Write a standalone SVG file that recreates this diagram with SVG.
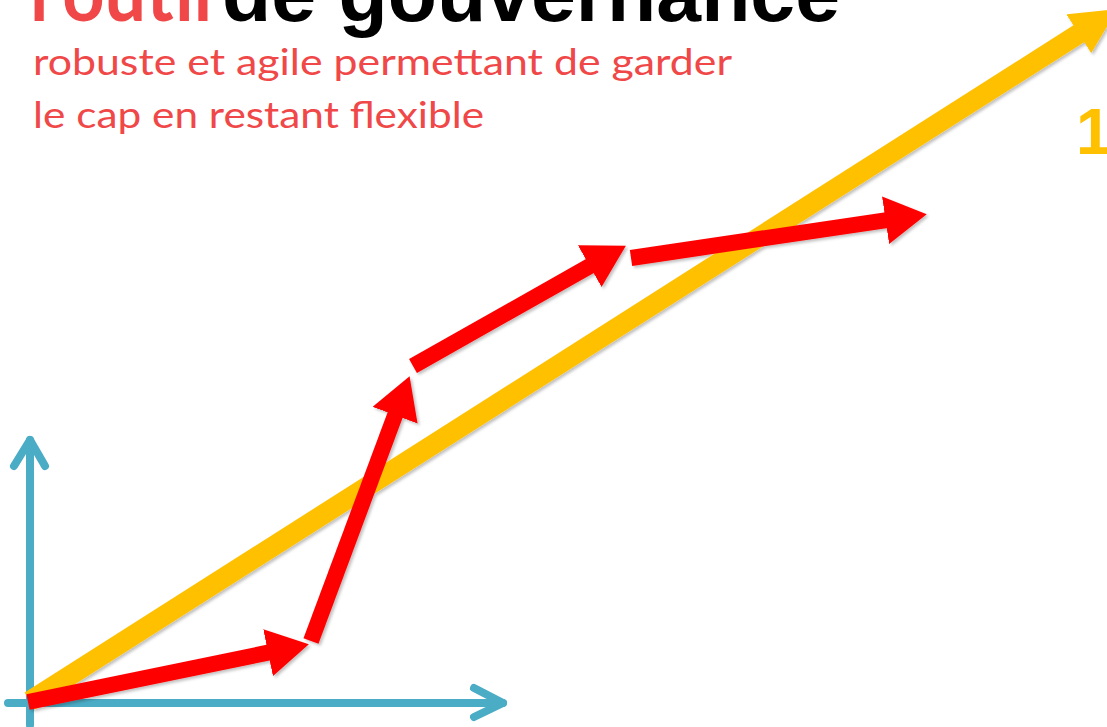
<svg xmlns="http://www.w3.org/2000/svg" width="1107" height="727" viewBox="0 0 1107 727">
  <style>
    .title-black { font-family: "Liberation Sans", Arial, sans-serif; font-weight: bold; font-size: 80px; fill: #000; }
    .title-red { font-family: Lato, "Liberation Sans", sans-serif; font-weight: bold; font-size: 80px; fill: #f04848; }
    .sub { font-family: Lato, "Liberation Sans", sans-serif; font-size: 37px; fill: #f04848; }
    .num { font-family: "Liberation Sans", Arial, sans-serif; font-weight: bold; font-size: 64px; fill: #ffc000; }
    .axis { stroke: #4bacc6; stroke-width: 8; fill: none; stroke-linecap: round; stroke-linejoin: round; }
    .red { stroke: #ff0000; stroke-width: 16; fill: none; marker-end: url(#redHead); }
    .yellow { stroke: #ffc000; stroke-width: 20; fill: none; marker-end: url(#yellowHead); }
  </style>
  <defs>
    <filter id="shadow" filterUnits="userSpaceOnUse" x="0" y="0" width="1107" height="727">
      <feDropShadow dx="2" dy="2" stdDeviation="1.5" flood-color="#000" flood-opacity="0.25"/>
    </filter>
    <marker id="redHead" viewBox="0 0 10 10" markerUnits="strokeWidth" markerWidth="2.6" markerHeight="3" refX="0.3" refY="5" orient="auto" preserveAspectRatio="none">
      <path d="M0,0 L10,5 L0,10 z" fill="#ff0000"/>
    </marker>
    <marker id="yellowHead" viewBox="0 0 10 10" markerUnits="strokeWidth" markerWidth="2.3" markerHeight="2.3" refX="0.3" refY="5" orient="auto" preserveAspectRatio="none">
      <path d="M0,0 L10,5 L0,10 z" fill="#ffc000"/>
    </marker>
  </defs>

  <g id="title">
    <text class="title-red" x="30" y="21" textLength="182" lengthAdjust="spacingAndGlyphs">l’outil</text>
    <text class="title-black" x="222" y="21" textLength="618" lengthAdjust="spacingAndGlyphs">de gouvernance</text>
  </g>
  <g id="subtitle">
    <text class="sub" x="33" y="75" textLength="699" lengthAdjust="spacingAndGlyphs">robuste et agile permettant de garder</text>
    <text class="sub" x="33" y="128" textLength="451" lengthAdjust="spacingAndGlyphs">le cap en restant flexible</text>
  </g>
  <g id="label-1">
    <text class="num" x="1076" y="154">1</text>
  </g>

  <g id="axes">
    <path class="axis" d="M30,725 L30,440"/>
    <path class="axis" d="M14,466 L30,440 L45,466"/>
    <path class="axis" d="M8,703 L503,703"/>
    <path class="axis" d="M474,688 L503,703 L474,717"/>
  </g>

  <g id="connectors" filter="url(#shadow)">
    <line class="yellow" x1="30" y1="701" x2="1080" y2="33"/>
    <line class="red" x1="28" y1="702" x2="269.3" y2="652.4"/>
    <line class="red" x1="311" y1="641" x2="395.5" y2="414"/>
    <line class="red" x1="413" y1="366" x2="590.8" y2="265.5"/>
    <line class="red" x1="631" y1="258" x2="886.8" y2="220.1"/>
  </g>
</svg>
